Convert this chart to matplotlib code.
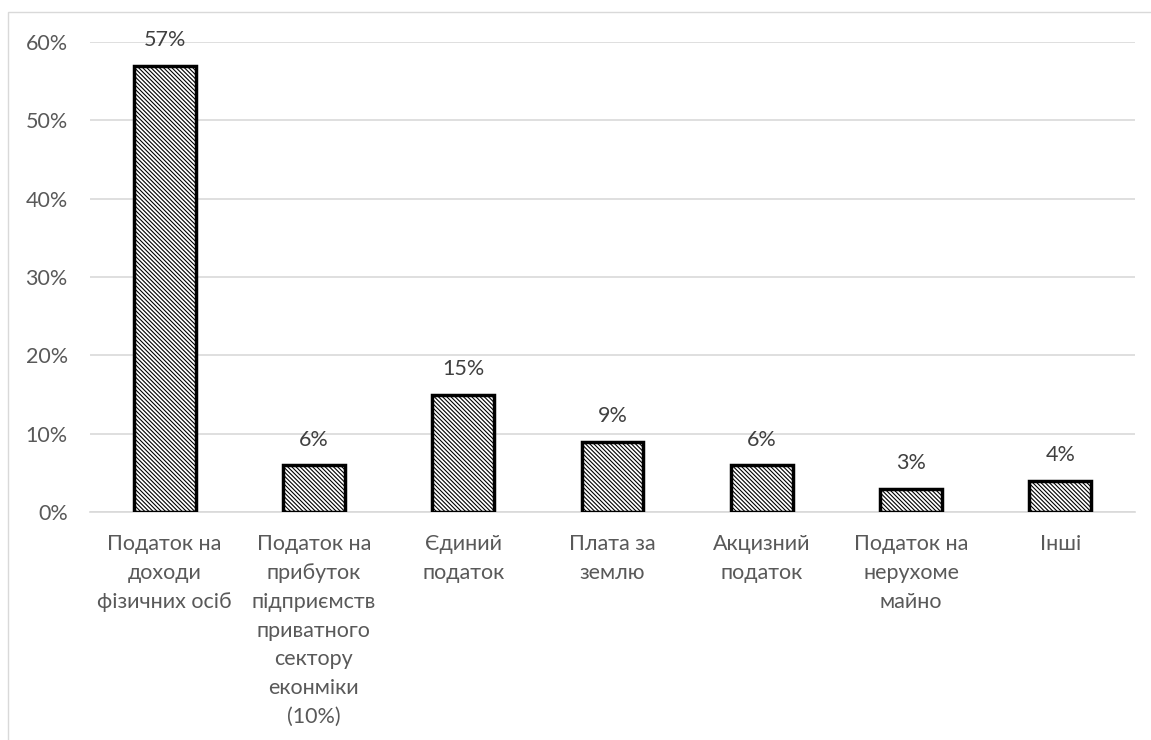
import matplotlib
matplotlib.use("Agg")
import matplotlib.pyplot as plt
from matplotlib.patches import Rectangle
from matplotlib.ticker import FuncFormatter, MultipleLocator

categories = [
    "Податок на\nдоходи\nфізичних осіб",
    "Податок на\nприбуток\nпідприємств\nприватного\nсектору\nеконміки\n(10%)",
    "Єдиний\nподаток",
    "Плата за\nземлю",
    "Акцизний\nподаток",
    "Податок на\nнерухоме\nмайно",
    "Інші",
]
values = [57, 6, 15, 9, 6, 3, 4]
labels = ["57%", "6%", "15%", "9%", "6%", "3%", "4%"]

plt.rcParams['font.family'] = ['Lato', 'DejaVu Sans']
plt.rcParams['hatch.linewidth'] = 0.8
plt.rcParams['hatch.color'] = 'black'

fig = plt.figure(figsize=(11.51, 7.40), dpi=100)
ax = fig.add_axes([90/1151, 1 - 512/740, 1045/1151, 470/740])

FS = 15.5
x = list(range(len(categories)))
bars = ax.bar(x, values, width=0.415, color='white', edgecolor='black',
              linewidth=2.5, hatch='\\\\\\\\\\\\\\\\', zorder=3)
for xi, v, lab in zip(x, values, labels):
    ax.annotate(lab, (xi, v), xytext=(0, 11), textcoords='offset points',
                ha='center', va='bottom', fontsize=FS, color='#404040')

ax.set_xlim(-0.5, len(categories) - 0.5)
ax.set_ylim(0, 60)
ax.yaxis.set_major_locator(MultipleLocator(10))
ax.yaxis.set_major_formatter(FuncFormatter(lambda v, p: f"{int(v)}%"))
ax.grid(axis='y', color='#d9d9d9', linewidth=1.2, zorder=0)
ax.set_xticks(x)
ax.set_xticklabels(categories, fontsize=FS, color='#595959', linespacing=1.55)
ax.tick_params(axis='both', length=0, labelsize=FS, labelcolor='#595959')
ax.tick_params(axis='x', pad=16)
ax.tick_params(axis='y', pad=16)
for s in ['top', 'right', 'left']:
    ax.spines[s].set_visible(False)
ax.spines['bottom'].set_color('#d9d9d9')
ax.spines['bottom'].set_linewidth(1.2)

fig.patches.append(Rectangle((8/1151, -0.1), 1.2, 1 - 12/740 + 0.1,
                             transform=fig.transFigure, fill=False,
                             edgecolor='#d9d9d9', linewidth=1.0))

fig.savefig("out.png", dpi=100)
